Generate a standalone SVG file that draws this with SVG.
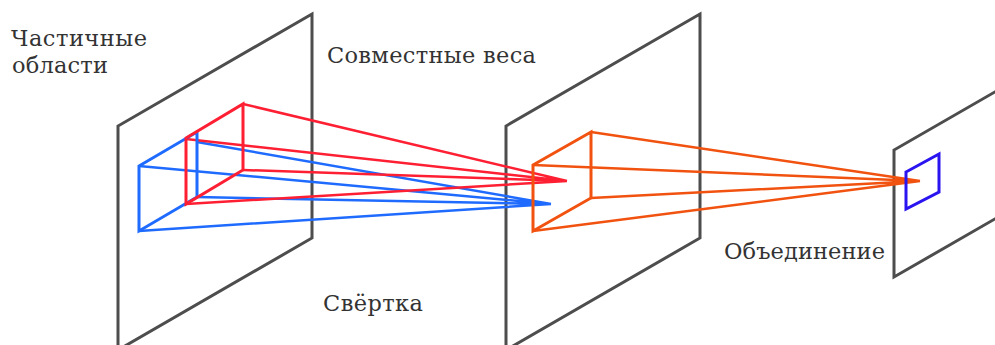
<svg xmlns="http://www.w3.org/2000/svg" width="995" height="345" viewBox="0 0 995 345">
<style>
.p{fill:none;stroke-linejoin:miter}
.g{stroke:#4d4d4d;stroke-width:3}
.b{stroke:#1f6bff;stroke-width:3}
.bl{stroke:#1f6bff;stroke-width:2.5;fill:none}
.r{stroke:#ff1f33;stroke-width:3}
.rl{stroke:#ff1f33;stroke-width:2.5;fill:none}
.o{stroke:#f2520f;stroke-width:3}
.ol{stroke:#f2520f;stroke-width:2.5;fill:none}
.v{stroke:#2a14f0;stroke-width:3}
text{font-family:"DejaVu Serif",serif;font-size:22.5px;fill:#333}
</style>
<rect width="995" height="345" fill="#fff"/>
<g id="panel1"><path class="p g" d="M312 14L118 126V350L312 238Z"/></g>
<g id="panel2"><path class="p g" d="M700 14L506 126V350L700 238Z"/></g>
<g id="panel3"><path class="p g" d="M1000 89L894 150V277L1000 216"/></g>
<g id="connectors">
<path class="bl" d="M139 166L551 204M197 142L551 204M197 197L551 204M139 231L551 204"/>
<path class="rl" d="M186 139L567 181M243 104L567 181M243 170L567 181M186 204L567 181"/>
<path class="ol" d="M533 165L920 181M591 132L920 181M591 198L920 181M533 231L920 181"/>
</g>
<g id="blue-patch"><path class="p b" d="M139 166L197 132V197L139 231Z"/></g>
<g id="red-patch"><path class="p r" d="M186 138L243 104V170L186 204Z"/></g>
<g id="orange-patch"><path class="p o" d="M533 165L591 132V198L533 231Z"/></g>
<g id="pool-patch"><path class="p v" d="M906 172L939 154V192L906 209Z"/></g>
<g id="label-regions"><text x="11" y="46" textLength="136">Частичные</text><text x="12" y="73" textLength="96">области</text></g>
<g id="label-weights"><text x="327" y="63" textLength="209">Совместные веса</text></g>
<g id="label-conv"><text x="323" y="311" textLength="100">Свёртка</text></g>
<g id="label-pool"><text x="724" y="259" textLength="161">Объединение</text></g>
</svg>
